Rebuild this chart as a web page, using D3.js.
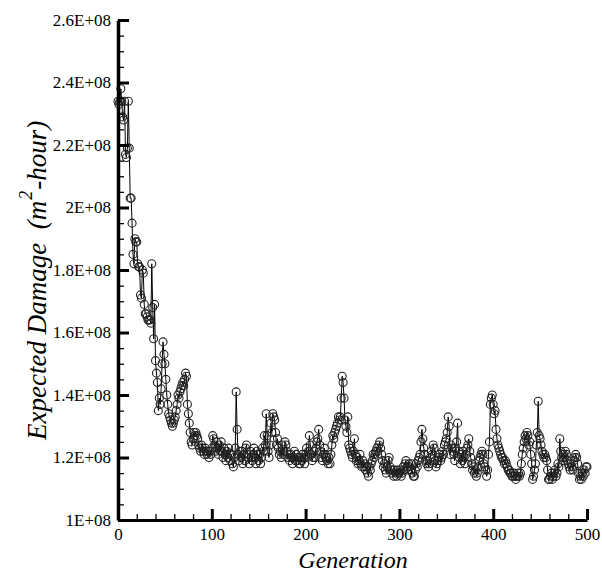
<!DOCTYPE html>
<html>
<head>
<meta charset="utf-8">
<script src="https://cdn.jsdelivr.net/npm/d3@7"></script>
</head>
<body style="margin:0">
<svg id="fig" width="602" height="572" style="display:block"></svg>
<script>
// Expected damage per generation, in units of 1E+06 m^2-hour (generation 0..500)
const damageMillions = [
  234, 233, 234, 238, 234, 229, 228, 234, 217, 216,
  219, 234, 219, 203, 203, 195, 185, 182, 190, 189,
  189, 182, 181, 181, 172, 171, 180, 179, 169, 166,
  166, 165, 164, 164, 164, 163, 182, 168, 158, 169,
  151, 147, 144, 135, 139, 137, 142, 150, 157, 153,
  150, 145, 140, 137, 134, 133, 132, 131, 130, 131,
  132, 133, 135, 137, 140, 139, 141, 142, 143, 144,
  143, 145, 147, 146, 137, 134, 131, 128, 125, 124,
  126, 128, 127, 128, 127, 126, 124, 123, 122, 124,
  123, 122, 121, 123, 122, 121, 122, 120, 122, 121,
  123, 127, 126, 124, 122, 125, 123, 121, 124, 122,
  125, 122, 120, 123, 121, 119, 122, 120, 123, 121,
  119, 121, 118, 117, 120, 123, 141, 129, 121, 119,
  122, 120, 122, 118, 121, 119, 123, 124, 121, 120,
  118, 122, 120, 119, 121, 123, 120, 118, 122, 121,
  119, 121, 118, 120, 123, 122, 127, 124, 134, 127,
  122, 120, 124, 131, 128, 134, 133, 132, 128, 124,
  126, 123, 121, 122, 120, 124, 121, 122, 125, 124,
  122, 120, 121, 119, 121, 120, 118, 120, 122, 119,
  121, 119, 120, 118, 118, 120, 119, 121, 120, 118,
  121, 123, 120, 122, 127, 124, 121, 119, 120, 122,
  120, 123, 125, 126, 129, 124, 122, 120, 119, 121,
  123, 121, 120, 119, 118, 120, 118, 121, 124, 127,
  126, 128, 129, 130, 131, 133, 132, 133, 139, 146,
  144, 139, 132, 130, 128, 133, 124, 123, 122, 121,
  120, 122, 126, 121, 119, 120, 118, 119, 121, 118,
  117, 119, 117, 118, 116, 117, 115, 114, 117, 116,
  118, 119, 121, 120, 121, 122, 123, 122, 124, 125,
  123, 121, 119, 117, 118, 116, 115, 117, 119, 120,
  117, 116, 115, 116, 114, 116, 115, 114, 116, 115,
  115, 116, 114, 115, 117, 116, 118, 119, 117, 116,
  118, 117, 116, 118, 115, 114, 114, 116, 118, 117,
  119, 120, 121, 125, 129, 126, 123, 121, 119, 118,
  119, 117, 118, 120, 122, 121, 124, 123, 119, 117,
  118, 119, 120, 121, 119, 120, 122, 121, 124, 125,
  126, 128, 133, 130, 121, 124, 123, 122, 121, 119,
  123, 125, 131, 122, 120, 118, 121, 119, 122, 120,
  118, 121, 123, 124, 126, 122, 120, 118, 116, 117,
  115, 116, 114, 115, 117, 119, 120, 121, 122, 121,
  118, 117, 116, 114, 116, 121, 125, 137, 139, 140,
  137, 134, 135, 129, 126, 124, 123, 122, 121, 120,
  120, 119, 118, 119, 118, 117, 116, 116, 115, 115,
  114, 114, 115, 114, 113, 114, 114, 115, 114, 115,
  118, 121, 123, 125, 127, 126, 128, 127, 124, 125,
  121, 118, 113, 114, 116, 118, 124, 128, 138, 127,
  126, 124, 122, 121, 120, 121, 120, 119, 116, 113,
  113, 114, 115, 113, 114, 115, 116, 114, 115, 118,
  117, 126, 122, 120, 119, 121, 120, 122, 121, 119,
  118, 117, 116, 118, 117, 116, 119, 120, 121, 120,
  118, 115, 113, 114, 113, 115, 114, 116, 115, 117,
  117
];
const xMajorTicks = [0, 100, 200, 300, 400, 500];
const xTickLabels = ["0", "100", "200", "300", "400", "500"];
const yMajorTicks = [1.0e8, 1.2e8, 1.4e8, 1.6e8, 1.8e8, 2.0e8, 2.2e8, 2.4e8, 2.6e8];
const yTickLabels = ["1E+08", "1.2E+08", "1.4E+08", "1.6E+08", "1.8E+08", "2E+08", "2.2E+08", "2.4E+08", "2.6E+08"];
const xTitle = "Generation";
const yTitleMain = "Expected Damage  (m";
const yTitleSup = "2";
const yTitleEnd = "-hour)";

const FONT = "Liberation Serif";
const data = damageMillions.map((v, i) => ({ gen: i, value: v * 1e6 }));

const svg = d3.select("#fig");
const x = d3.scaleLinear().domain([0, 500]).range([118, 587]);
const y = d3.scaleLinear().domain([1e8, 2.6e8]).range([520, 20]);

const xMinor = d3.range(0, 501, 20).filter(v => v % 100 !== 0);
const yMinor = d3.range(100, 261, 5).map(v => v * 1e6).filter(v => Math.round(v / 1e6) % 20 !== 0);

// data line and markers
const line = d3.line().x(d => x(d.gen)).y(d => y(d.value));
svg.append("path")
  .datum(data)
  .attr("d", line)
  .attr("fill", "none")
  .attr("stroke", "#000")
  .attr("stroke-width", 1);

svg.append("g")
  .selectAll("circle")
  .data(data)
  .join("circle")
  .attr("cx", d => x(d.gen))
  .attr("cy", d => y(d.value))
  .attr("r", 4)
  .attr("fill", "none")
  .attr("stroke", "#222")
  .attr("stroke-width", 1.1);

// x axis minor
const gxMinor = svg.append("g").attr("transform", "translate(0,520)")
  .call(d3.axisBottom(x).tickValues(xMinor).tickSizeInner(-6).tickSizeOuter(0).tickFormat(""));
gxMinor.select(".domain").remove();
gxMinor.selectAll(".tick line").attr("stroke", "#000").attr("stroke-width", 1.3);

// x axis major
const gx = svg.append("g").attr("transform", "translate(0,520)")
  .call(d3.axisBottom(x).tickValues(xMajorTicks).tickSizeInner(-11).tickSizeOuter(0)
    .tickPadding(8).tickFormat((d, i) => xTickLabels[i]));
gx.attr("font-family", FONT).attr("font-size", 17);
gx.select(".domain").attr("stroke", "#000").attr("stroke-width", 3);
gx.selectAll(".tick line").attr("stroke", "#000").attr("stroke-width", 3);
gx.selectAll(".tick text").attr("font-family", FONT).attr("font-size", 17).attr("fill", "#000");

// y axis minor
const gyMinor = svg.append("g").attr("transform", "translate(118,0)")
  .call(d3.axisLeft(y).tickValues(yMinor).tickSizeInner(-6).tickSizeOuter(0).tickFormat(""));
gyMinor.select(".domain").remove();
gyMinor.selectAll(".tick line").attr("stroke", "#000").attr("stroke-width", 1.3);

// y axis major
const gy = svg.append("g").attr("transform", "translate(118,0)")
  .call(d3.axisLeft(y).tickValues(yMajorTicks).tickSizeInner(-11).tickSizeOuter(0)
    .tickPadding(7).tickFormat((d, i) => yTickLabels[i]));
gy.attr("font-family", FONT).attr("font-size", 17);
gy.select(".domain").attr("stroke", "#000").attr("stroke-width", 3.5);
gy.selectAll(".tick line").attr("stroke", "#000").attr("stroke-width", 3);
gy.selectAll(".tick text").attr("font-family", FONT).attr("font-size", 17).attr("fill", "#000");

// x title
svg.append("text")
  .attr("x", 353).attr("y", 568)
  .attr("text-anchor", "middle")
  .attr("font-family", FONT)
  .attr("font-style", "italic")
  .attr("font-size", 24)
  .attr("fill", "#000")
  .text(xTitle);

// y title as three separate text pieces inside one rotated group
const yg = svg.append("g").attr("transform", "translate(46,440) rotate(-90)");
const t1 = yg.append("text")
  .attr("x", 0).attr("y", 0)
  .attr("font-family", FONT).attr("font-style", "italic").attr("font-size", 27)
  .attr("fill", "#000").style("white-space", "pre")
  .text(yTitleMain);
const l1 = t1.node().getComputedTextLength();
const t2 = yg.append("text")
  .attr("x", l1 + 1).attr("y", -14)
  .attr("font-family", FONT).attr("font-style", "italic").attr("font-size", 18)
  .attr("fill", "#000")
  .text(yTitleSup);
const l2 = t2.node().getComputedTextLength();
yg.append("text")
  .attr("x", l1 + l2 + 2).attr("y", 0)
  .attr("font-family", FONT).attr("font-style", "italic").attr("font-size", 27)
  .attr("fill", "#000")
  .text(yTitleEnd);
</script>
</body>
</html>
